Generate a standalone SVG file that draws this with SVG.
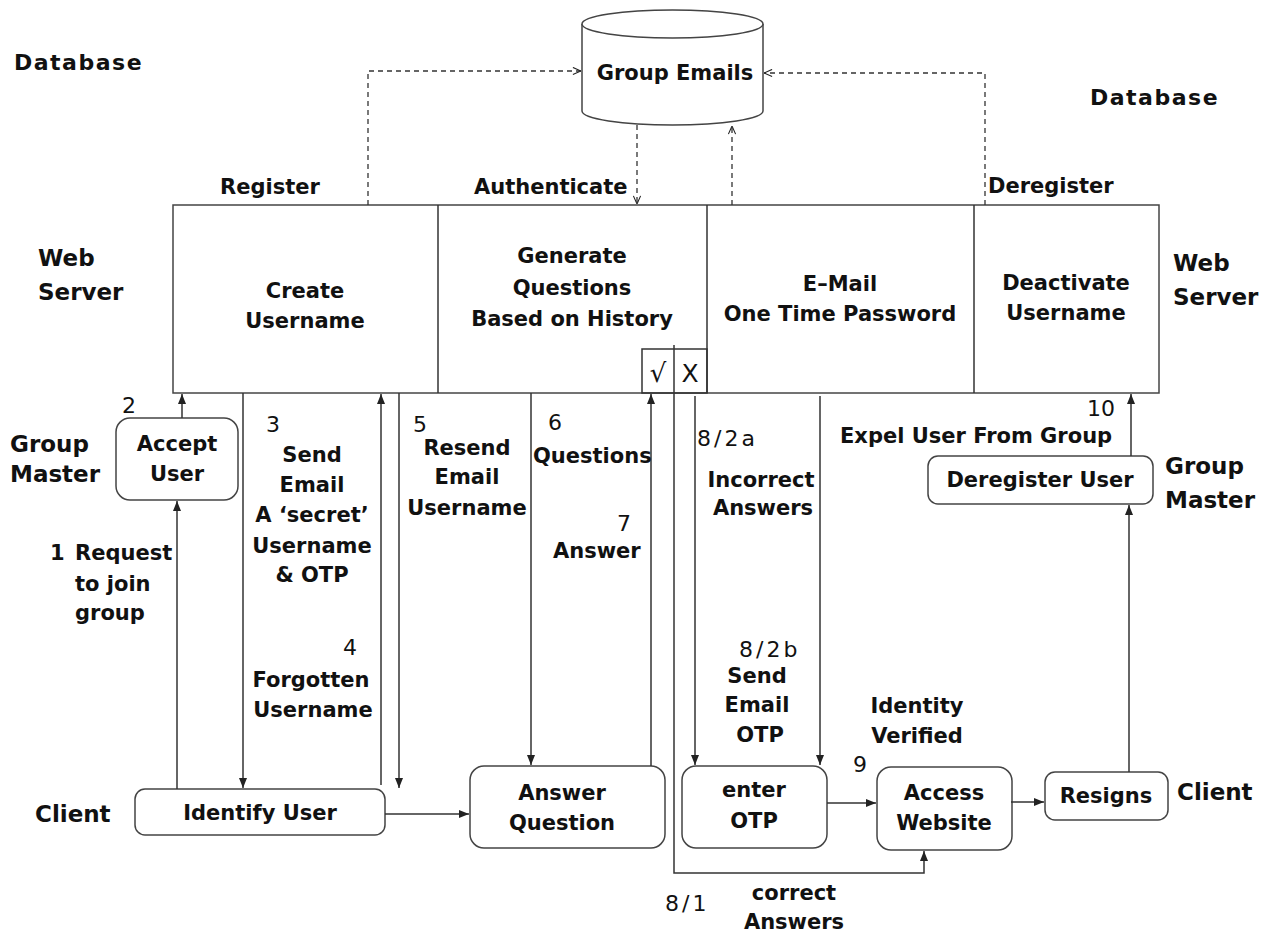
<svg xmlns="http://www.w3.org/2000/svg" width="1270" height="936" viewBox="0 0 1270 936">
<defs>
<marker id="ah" viewBox="0 0 10 10" refX="10" refY="5" markerWidth="10" markerHeight="10" markerUnits="userSpaceOnUse" orient="auto"><path d="M0,1 L10,5 L0,9 Z" fill="#222"/></marker>
<marker id="oh" viewBox="0 0 10 10" refX="10" refY="5" markerWidth="9" markerHeight="9" markerUnits="userSpaceOnUse" orient="auto"><path d="M1,1 L10,5 L1,9" fill="none" stroke="#222" stroke-width="1.2"/></marker>
</defs>
<style>
text{font-family:"DejaVu Sans","Liberation Sans",sans-serif;fill:#111}
.t{font-size:21px;font-weight:bold}
.c{text-anchor:middle}
.n{font-size:22px;font-weight:normal}
.l{font-size:23px;font-weight:bold}
.db{font-size:22px;font-weight:bold;letter-spacing:1.5px}
.box{fill:#fff;stroke:#444;stroke-width:1.5}
.e{fill:none;stroke:#333;stroke-width:1.5;marker-end:url(#ah)}
.d{fill:none;stroke:#333;stroke-width:1.3;stroke-dasharray:5,4;marker-end:url(#oh)}
.ln{fill:none;stroke:#333;stroke-width:1.5}
</style>
<rect width="1270" height="936" fill="#fff"/>

<g id="lanes">
<text class="db" x="14" y="70">Database</text>
<text class="db" x="1090" y="105">Database</text>
<text class="l" x="38" y="266">Web</text>
<text class="l" x="38" y="300">Server</text>
<text class="l" x="1173" y="271">Web</text>
<text class="l" x="1173" y="305">Server</text>
<text class="l" x="10" y="452">Group</text>
<text class="l" x="10" y="482">Master</text>
<text class="l" x="1165" y="474">Group</text>
<text class="l" x="1165" y="508">Master</text>
<text class="l" x="35" y="822">Client</text>
<text class="l" x="1177" y="800">Client</text>
<text class="t" x="220" y="194">Register</text>
<text class="t" x="474" y="194">Authenticate</text>
<text class="t" x="988" y="193">Deregister</text>
</g>

<g id="group-emails">
<path class="box" d="M582,24 V111 A90.5,14 0 0 0 763,111 V24"/>
<ellipse class="box" cx="672.5" cy="24" rx="90.5" ry="14"/>
<text class="t c" x="675" y="80">Group Emails</text>
</g>

<g id="web-server">
<rect class="box" x="173" y="205" width="986" height="188"/>
<line class="ln" x1="438" y1="205" x2="438" y2="393"/>
<line class="ln" x1="707" y1="205" x2="707" y2="393"/>
<line class="ln" x1="974" y1="205" x2="974" y2="393"/>
<rect class="ln" x="642" y="349" width="65" height="44"/>
<line class="ln" x1="674" y1="345" x2="674" y2="393"/>
<text class="t c" x="305" y="298">Create</text>
<text class="t c" x="305" y="328">Username</text>
<text class="t c" x="572" y="263">Generate</text>
<text class="t c" x="572" y="295">Questions</text>
<text class="t c" x="572" y="326">Based on History</text>
<text class="t c" x="840" y="291">E–Mail</text>
<text class="t c" x="840" y="321">One Time Password</text>
<text class="t c" x="1066" y="290">Deactivate</text>
<text class="t c" x="1066" y="320">Username</text>
<text class="n c" x="658" y="382" style="font-size:26px">√</text>
<text class="n c" x="690" y="382" style="font-size:25px">X</text>
</g>

<g id="accept-user">
<rect class="box" x="116" y="418" width="122" height="82" rx="14"/>
<text class="t c" x="177" y="451">Accept</text>
<text class="t c" x="177" y="481">User</text>
</g>
<g id="identify-user">
<rect class="box" x="135" y="789" width="250" height="46" rx="10"/>
<text class="t c" x="260" y="820">Identify User</text>
</g>
<g id="answer-question">
<rect class="box" x="470" y="766" width="195" height="82" rx="14"/>
<text class="t c" x="562" y="800">Answer</text>
<text class="t c" x="562" y="830">Question</text>
</g>
<g id="enter-otp">
<rect class="box" x="682" y="766" width="145" height="82" rx="14"/>
<text class="t c" x="754" y="797">enter</text>
<text class="t c" x="754" y="828">OTP</text>
</g>
<g id="access-website">
<rect class="box" x="877" y="767" width="135" height="83" rx="14"/>
<text class="t c" x="944" y="800">Access</text>
<text class="t c" x="944" y="830">Website</text>
</g>
<g id="resigns">
<rect class="box" x="1045" y="772" width="123" height="48" rx="10"/>
<text class="t c" x="1106" y="803">Resigns</text>
</g>
<g id="deregister-user">
<rect class="box" x="928" y="456" width="225" height="48" rx="10"/>
<text class="t c" x="1040" y="487">Deregister User</text>
</g>

<g id="connectors">
<path class="d" d="M368,205 V71 H581"/>
<path class="d" d="M985,205 V73 H764"/>
<path class="d" d="M637,125 V204"/>
<path class="d" d="M732,205 V126"/>
<path class="e" d="M182,418 V394"/>
<path class="e" d="M177,789 V501"/>
<path class="e" d="M243,393 V788"/>
<path class="e" d="M381,785 V394"/>
<path class="e" d="M399,393 V788"/>
<path class="e" d="M531,393 V765"/>
<path class="e" d="M651,766 V394"/>
<path class="e" d="M695,396 V765"/>
<path class="e" d="M820,396 V765"/>
<path class="e" d="M674,393 V873 H924 V851"/>
<path class="e" d="M385,814 H469"/>
<path class="e" d="M827,803 H876"/>
<path class="e" d="M1011,802 H1044"/>
<path class="e" d="M1129,772 V505"/>
<path class="e" d="M1131,456 V394"/>
</g>

<g id="labels">
<text class="n" x="122" y="413">2</text>
<text class="t" x="50" y="560">1</text>
<text class="t" x="75" y="560">Request</text>
<text class="t" x="75" y="591">to join</text>
<text class="t" x="75" y="620">group</text>
<text class="n" x="266" y="432">3</text>
<text class="t c" x="312" y="462">Send</text>
<text class="t c" x="312" y="492">Email</text>
<text class="t c" x="312" y="522">A ‘secret’</text>
<text class="t c" x="312" y="553">Username</text>
<text class="t c" x="312" y="582">&amp; OTP</text>
<text class="n" x="343" y="655">4</text>
<text class="t c" x="311" y="687">Forgotten</text>
<text class="t c" x="313" y="717">Username</text>
<text class="n" x="413" y="432">5</text>
<text class="t c" x="467" y="455">Resend</text>
<text class="t c" x="467" y="484">Email</text>
<text class="t c" x="467" y="515">Username</text>
<text class="n" x="548" y="430">6</text>
<text class="t" x="533" y="463">Questions</text>
<text class="n" x="617" y="531">7</text>
<text class="t" x="553" y="558">Answer</text>
<text class="n" x="697" y="446" letter-spacing="3">8/2a</text>
<text class="t c" x="761" y="487">Incorrect</text>
<text class="t c" x="763" y="515">Answers</text>
<text class="n" x="739" y="657" letter-spacing="3">8/2b</text>
<text class="t c" x="757" y="683">Send</text>
<text class="t c" x="757" y="712">Email</text>
<text class="t c" x="760" y="742">OTP</text>
<text class="t c" x="917" y="713">Identity</text>
<text class="t c" x="917" y="743">Verified</text>
<text class="n" x="853" y="772">9</text>
<text class="n" x="665" y="911" letter-spacing="3">8/1</text>
<text class="t c" x="794" y="900">correct</text>
<text class="t c" x="794" y="929">Answers</text>
<text class="n" x="1087" y="416">10</text>
<text class="t" x="840" y="443">Expel User From Group</text>
</g>
</svg>
